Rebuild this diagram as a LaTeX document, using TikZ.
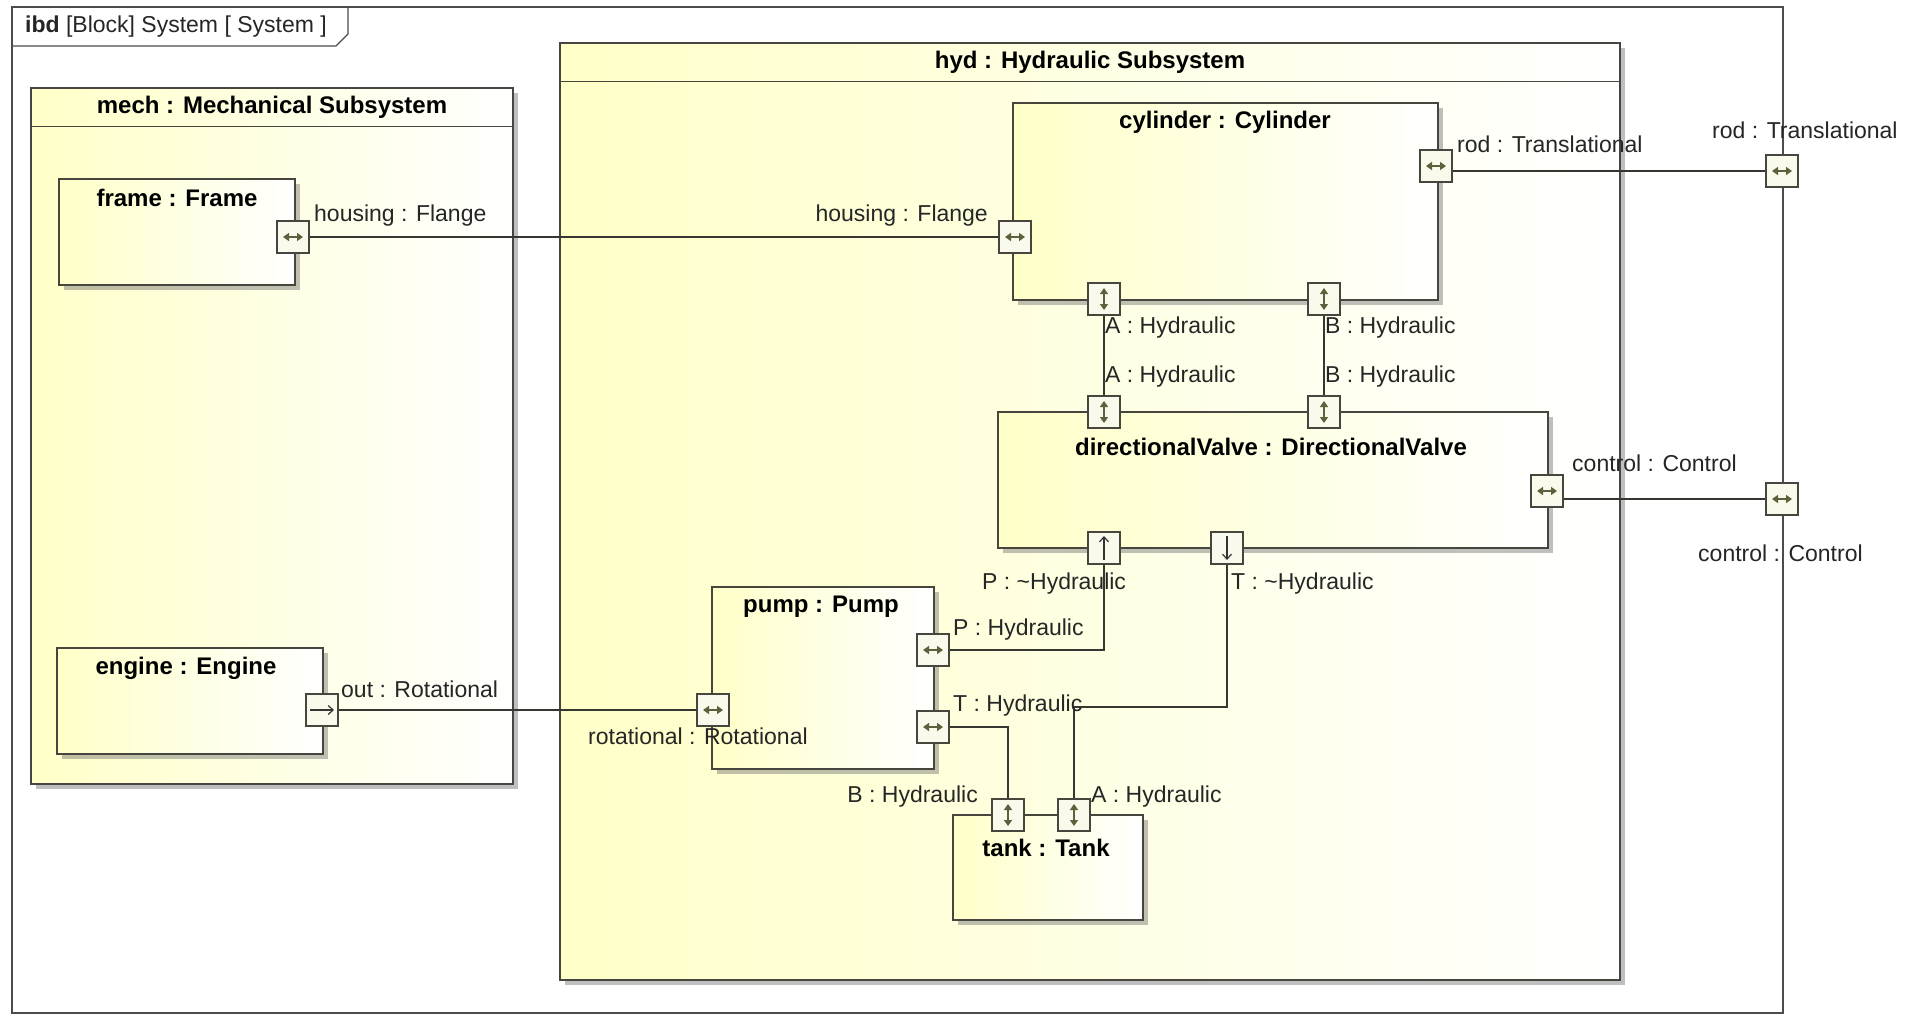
\documentclass[tikz,border=0pt]{standalone}
\usepackage{fontspec}
\setmainfont{Liberation Sans}
\usetikzlibrary{arrows.meta,shadows,fit,calc}
\definecolor{ylw}{RGB}{255,255,200}
\definecolor{bord}{RGB}{70,70,62}
\definecolor{glyphc}{RGB}{95,95,60}
\definecolor{pfill}{RGB}{250,250,236}
\definecolor{wire}{RGB}{55,55,50}
\begin{document}
\begin{tikzpicture}[x=1pt,y=-1pt,
  txt/.style={font=\fontsize{23}{27}\selectfont, inner sep=0pt, text=black!85},
  ttl/.style={font=\fontsize{24}{28}\selectfont\bfseries, inner sep=0pt},
  shad/.style={drop shadow={shadow xshift=5pt, shadow yshift=-5pt, fill=black!55, opacity=0.45}},
  partbox/.style={draw=bord, line width=1.4pt, left color=ylw, right color=white, inner sep=0pt, shad},
  port/.style={draw=bord, line width=1.1pt, fill=pfill, minimum size=32pt, inner sep=0pt},
  gh/.style={port, path picture={\draw[glyphc, line width=1.6pt, {Triangle[length=6pt,width=8pt]}-{Triangle[length=6pt,width=8pt]}] ([xshift=-10pt]path picture bounding box.center) -- ([xshift=10pt]path picture bounding box.center);}},
  gv/.style={port, path picture={\draw[glyphc, line width=1.6pt, {Triangle[length=6pt,width=8pt]}-{Triangle[length=6pt,width=8pt]}] ([yshift=-11pt]path picture bounding box.center) -- ([yshift=11pt]path picture bounding box.center);}},
  gup/.style={port, path picture={\draw[black!80, line width=1.2pt, -{Straight Barb[length=5pt,width=9pt]}] ([yshift=-12pt]path picture bounding box.center) -- ([yshift=12pt]path picture bounding box.center);}},
  gdown/.style={port, path picture={\draw[black!80, line width=1.2pt, -{Straight Barb[length=5pt,width=9pt]}] ([yshift=12pt]path picture bounding box.center) -- ([yshift=-12pt]path picture bounding box.center);}},
  gright/.style={port, path picture={\draw[black!80, line width=1.2pt, -{Straight Barb[length=5pt,width=9pt]}] ([xshift=-12pt]path picture bounding box.center) -- ([xshift=12pt]path picture bounding box.center);}},
  conn/.style={draw=wire, line width=1.2pt}
]
\useasboundingbox (0,0) rectangle (1914,1018);
\fill[white] (0,0) rectangle (1914,1018);

% outer frame
\node[draw=black!70, line width=1.1pt, inner sep=0pt, fit={(12,7) (1783,1013)}] (sysframe) {};
\draw[black!70, line width=1.1pt] (12,46) -- (336,46) -- (348,34) -- (348,7);
\node[txt, anchor=west] (tabttl) at (25,27) {\textbf{ibd} [Block] System [ System ]};

% mechanical subsystem
\node[partbox, fit={(31,88) (513,784)}] (mech) {};
\draw[bord, line width=1.4pt] ($(mech.north west)+(0,39)$) -- ($(mech.north east)+(0,39)$);
\node[ttl] (mechT) at (272,107) {mech : Mechanical Subsystem};

% hydraulic subsystem
\node[partbox, fit={(560,43) (1620,980)}] (hyd) {};
\draw[bord, line width=1.4pt] ($(hyd.north west)+(0,39)$) -- ($(hyd.north east)+(0,39)$);
\node[ttl] (hydT) at (1090,62) {hyd : Hydraulic Subsystem};

% parts
\node[partbox, fit={(59,179) (295,285)}] (frame) {};
\node[ttl] (frameT) at (177,198) {frame : Frame};
\node[partbox, fit={(57,648) (323,754)}] (engine) {};
\node[ttl] (engT) at (186,668) {engine : Engine};
\node[partbox, fit={(1013,103) (1438,300)}] (cyl) {};
\node[ttl] (cylT) at (1225,122) {cylinder : Cylinder};
\node[partbox, fit={(998,412) (1548,548)}] (valve) {};
\node[ttl] (valT) at (1271,447) {directionalValve : DirectionalValve};
\node[partbox, fit={(712,587) (934,769)}] (pump) {};
\node[ttl] (pumpT) at (821,607) {pump : Pump};
\node[partbox, fit={(953,815) (1143,920)}] (tank) {};
\node[ttl] (tankT) at (1046,848) {tank : Tank};

% ports
\node[gh] (fh) at (293,237) {};
\node[gh] (ch) at (1015,237) {};
\node[gh] (rodin) at (1436,166) {};
\node[gh] (rodout) at (1782,171) {};
\node[gv] (cA) at (1104,299) {};
\node[gv] (cB) at (1324,299) {};
\node[gv] (vA) at (1104,412) {};
\node[gv] (vB) at (1324,412) {};
\node[gh] (ctlin) at (1547,491) {};
\node[gh] (ctlout) at (1782,499) {};
\node[gup] (vP) at (1104,548) {};
\node[gdown] (vT) at (1227,548) {};
\node[gright] (eout) at (322,710) {};
\node[gh] (prot) at (713,710) {};
\node[gh] (pP) at (933,650) {};
\node[gh] (pT) at (933,727) {};
\node[gv] (tB) at (1008,815) {};
\node[gv] (tA) at (1074,815) {};

% connectors
\draw[conn] (fh.east) -- (ch.west);
\draw[conn] (rodin.east |- rodout.west) -- (rodout.west);
\draw[conn] (ctlin.east |- ctlout.west) -- (ctlout.west);
\draw[conn] (cA.south) -- (vA.north);
\draw[conn] (cB.south) -- (vB.north);
\draw[conn] (eout.east) -- (prot.west);
\draw[conn] (pP.east) -| (vP.south);
\draw[conn] (pT.east) -| (tB.north);
\coordinate (tjoin) at (1227,707);
\draw[conn] (tA.north) |- (tjoin) -- (vT.south);

% labels
\node[txt, anchor=west] (l1) at (314,216) {housing : Flange};
\node[txt, anchor=east] (l2) at (988,216) {housing : Flange};
\node[txt, anchor=west] (l3) at (1457,144) {rod : Translational};
\node[txt, anchor=west] (l4) at (1712,130) {rod : Translational};
\node[txt, anchor=west] (l5) at (1105,328) {A : Hydraulic};
\node[txt, anchor=west] (l6) at (1105,377) {A : Hydraulic};
\node[txt, anchor=west] (l7) at (1325,328) {B : Hydraulic};
\node[txt, anchor=west] (l8) at (1325,377) {B : Hydraulic};
\node[txt, anchor=west] (l9) at (1572,463) {control : Control};
\node[txt, anchor=west] (l10) at (1698,553) {control : Control};
\node[txt, anchor=west] (l11) at (982,584) {P : \textasciitilde Hydraulic};
\node[txt, anchor=west] (l12) at (1231,584) {T : \textasciitilde Hydraulic};
\node[txt, anchor=west] (l13) at (953,630) {P : Hydraulic};
\node[txt, anchor=west] (l14) at (953,706) {T : Hydraulic};
\node[txt, anchor=west] (l15) at (588,736) {rotational : Rotational};
\node[txt, anchor=west] (l16) at (341,689) {out : Rotational};
\node[txt, anchor=east] (l17) at (978,797) {B : Hydraulic};
\node[txt, anchor=west] (l18) at (1091,797) {A : Hydraulic};
\end{tikzpicture}
\end{document}
